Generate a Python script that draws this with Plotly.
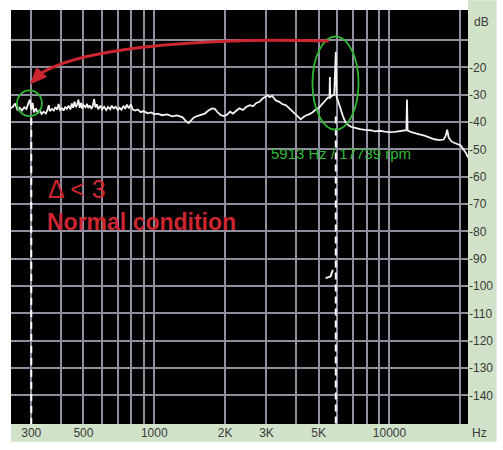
import math
import plotly.graph_objects as go

# ---------------- data ----------------
freq_hz = [
    244, 250, 256, 262, 268, 274, 280, 286, 292, 296, 300, 304, 308, 314, 320, 326,
    332, 339, 346, 352, 356, 360, 368, 374, 380, 387, 392, 398, 405, 412, 418, 425,
    432, 440, 446, 452, 458, 464, 470, 476, 482, 488, 494, 500, 510, 518, 524, 532,
    540, 548, 555, 562, 570, 578, 590, 600, 612, 625, 636, 650, 660, 672, 685, 700,
    712, 725, 740, 752, 765, 780, 795, 810, 830, 851, 875, 900, 937, 970, 1000, 1033,
    1080, 1137, 1190, 1253, 1320, 1360, 1400, 1430, 1470, 1521, 1580, 1640, 1700, 1760,
    1810, 1860, 1920, 1980, 2040, 2100, 2160, 2240, 2300, 2380, 2467, 2550, 2630, 2718,
    2800, 2890, 2960, 3030, 3100, 3170, 3250, 3300, 3400, 3500, 3634, 3750, 3880, 4003,
    4100, 4200, 4300, 4410, 4550, 4700, 4858, 5000, 5150, 5300, 5400, 5480, 5560, 5580,
    5600, 5700, 5820, 5913, 5960, 6050, 6200, 6350, 6495, 6700, 6900, 7154, 7500, 7880,
    8300, 8681, 9100, 9565, 10000, 10537, 11000, 11500, 11800, 11870, 11940, 12300, 12790,
    13400, 14090, 14800, 15520, 16300, 17000, 17350, 17600, 17850, 18300, 18830, 19500,
    20100, 20750, 21200, 21570,
]
level_db = [
    -35.0, -34.5, -33.2, -35.5, -34.8, -35.8, -34.6, -35.2, -33.0, -31.8, -35.5, -33.0,
    -36.5, -35.0, -36.8, -35.6, -37.0, -36.2, -36.9, -35.5, -33.8, -36.0, -35.2, -35.8,
    -34.5, -35.5, -33.4, -35.6, -35.0, -35.8, -34.4, -35.2, -34.0, -35.4, -33.2, -34.8,
    -32.6, -34.5, -33.6, -31.8, -34.8, -33.0, -35.2, -33.8, -34.6, -33.4, -34.9, -33.9,
    -35.2, -34.1, -31.6, -34.6, -33.5, -35.3, -34.0, -35.4, -34.4, -35.6, -34.5, -35.3,
    -34.0, -35.0, -34.4, -35.6, -34.8, -35.5, -34.1, -35.2, -33.6, -35.0, -33.5, -35.4,
    -35.8, -35.4, -36.4, -36.0, -36.8, -36.5, -37.2, -36.9, -37.5, -37.2, -37.9, -37.6,
    -38.3, -39.6, -40.4, -39.5, -38.4, -37.8, -37.2, -36.9, -35.8, -35.0, -35.2, -36.5,
    -37.5, -37.8, -37.3, -36.2, -36.9, -35.8, -35.0, -35.6, -34.4, -33.8, -34.2, -33.0,
    -32.6, -31.4, -30.8, -30.2, -30.9, -30.4, -31.6, -32.2, -32.6, -33.4, -33.9, -35.0,
    -36.1, -37.3, -38.4, -39.0, -38.2, -37.6, -37.2, -36.5, -35.4, -34.9, -33.6, -32.5,
    -31.8, -31.0, -31.2, -23.5, -31.0, -30.4, -30.0, -14.3, -30.8, -32.4, -35.6, -38.0,
    -40.0, -41.2, -41.8, -42.2, -42.6, -42.9, -43.0, -43.4, -43.2, -43.5, -43.7, -43.6,
    -43.4, -43.1, -43.0, -31.8, -43.1, -43.6, -44.1, -44.5, -45.0, -45.6, -46.3, -46.6,
    -46.4, -45.0, -42.8, -45.6, -47.0, -47.6, -48.0, -48.6, -50.3, -51.5, -53.0,
]

hook_hz = [5351, 5617, 5745]
hook_db = [-97.1, -96.5, -94.1]

x_grid_hz = [300, 400, 500, 600, 700, 800, 900, 1000, 2000, 3000, 4000, 5000,
             6000, 7000, 8000, 9000, 10000, 20000]
x_tick_text = ["300", "", "500", "", "", "", "", "1000", "2K", "3K", "", "5K",
               "", "", "", "", "10000", ""]
y_grid_db = [-10, -20, -30, -40, -50, -60, -70, -80, -90, -100, -110, -120, -130, -140]
y_tick_text = ["", "-20", "-30", "-40", "-50", "-60", "-70", "-80", "-90", "-100",
               "-110", "-120", "-130", "-140"]

marker_hz = [300, 5913]
marker_top_db = [-38.5, -38.0]

peak_label = "5913 Hz / 17739 rpm"
note_lines = ["\u0394 < 3", "Normal condition"]

# ---------------- layout geometry ----------------
W, H = 503, 450
L, R, T, B = 11, 474, 10, 432
X_MIN_HZ, X_MAX_HZ = 246, 21570
Y_MIN, Y_MAX = -150.5, 1.0


def px(x):
    return (x - L) / (R - L)


def py(y):
    return (B - y) / (B - T)


GREEN_BG = "#d0e2c8"
GRID = "#8e8e9e"
RED = "#cc2630"
GREEN = "#30b835"
FONT = "Liberation Sans, Arial"

fig = go.Figure()
fig.add_trace(go.Scatter(x=freq_hz, y=level_db, mode="lines",
                         line=dict(color="#f2f2f2", width=1.8), hoverinfo="skip",
                         showlegend=False))
fig.add_trace(go.Scatter(x=hook_hz, y=hook_db, mode="lines",
                         line=dict(color="#f2f2f2", width=2), hoverinfo="skip",
                         showlegend=False))

shapes = []
# label strips
shapes.append(dict(type="rect", xref="paper", yref="paper", x0=px(R), x1=px(W),
                   y0=py(H), y1=py(0), fillcolor=GREEN_BG, line_width=0, layer="below"))
shapes.append(dict(type="rect", xref="paper", yref="paper", x0=0, x1=px(R),
                   y0=py(H), y1=0, fillcolor=GREEN_BG, line_width=0, layer="below"))
# dashed markers
for hz, top in zip(marker_hz, marker_top_db):
    shapes.append(dict(type="line", xref="x", yref="y", x0=hz, x1=hz, y0=top, y1=Y_MIN,
                       line=dict(color="white", width=2, dash="7px,5px")))
# green ellipses
shapes.append(dict(type="circle", xref="x", yref="y", x0=261, x1=333, y0=-28.4, y1=-37.8,
                   line=dict(color=GREEN, width=1.8)))
shapes.append(dict(type="circle", xref="x", yref="y", x0=4706, x1=7386, y0=-8.7, y1=-42.8,
                   line=dict(color=GREEN, width=1.8)))
# curved red arrow
p0, c1, c2, p3 = (333, 41.7), (230, 38), (90, 45), (42, 74)
path = "M {},{} C {},{} {},{} {},{}".format(px(p0[0]), py(p0[1]), px(c1[0]), py(c1[1]),
                                            px(c2[0]), py(c2[1]), px(p3[0]), py(p3[1]))
shapes.append(dict(type="path", xref="paper", yref="paper", path=path,
                   line=dict(color=RED, width=3)))
tip, b1, b2 = (31, 85), (47, 78), (37, 69)
head = "M {},{} L {},{} L {},{} Z".format(px(tip[0]), py(tip[1]), px(b1[0]), py(b1[1]),
                                         px(b2[0]), py(b2[1]))
shapes.append(dict(type="path", xref="paper", yref="paper", path=head,
                   fillcolor=RED, line=dict(color=RED, width=1)))

annotations = [
    dict(x=px(46), y=py(192), xref="paper", yref="paper", text=note_lines[0],
         showarrow=False, xanchor="left", yanchor="middle",
         font=dict(family=FONT, size=25, color=RED)),
    dict(x=px(45), y=py(226), xref="paper", yref="paper", text="<b>" + note_lines[1] + "</b>",
         showarrow=False, xanchor="left", yanchor="middle",
         font=dict(family=FONT, size=23, color=RED)),
    dict(x=px(345), y=py(156), xref="paper", yref="paper", text=peak_label,
         showarrow=False, xanchor="center", yanchor="middle",
         font=dict(family=FONT, size=15, color=GREEN)),
    dict(x=px(488), y=py(22), xref="paper", yref="paper", text="dB",
         showarrow=False, xanchor="center", yanchor="middle",
         font=dict(family=FONT, size=12, color="#3a3a3a")),
    dict(x=px(486), y=py(441), xref="paper", yref="paper", text="Hz",
         showarrow=False, xanchor="center", yanchor="middle",
         font=dict(family=FONT, size=12, color="#3a3a3a")),
]

fig.update_layout(
    width=W, height=H,
    margin=dict(l=L, r=W - R, t=T, b=H - B, pad=0),
    paper_bgcolor="white", plot_bgcolor="black",
    shapes=shapes, annotations=annotations,
    xaxis=dict(type="log", range=[math.log10(X_MIN_HZ), math.log10(X_MAX_HZ)],
               tickmode="array", tickvals=x_grid_hz, ticktext=x_tick_text,
               showgrid=True, gridcolor=GRID, gridwidth=1.5, zeroline=False,
               showline=False, ticks="", fixedrange=True,
               tickfont=dict(family=FONT, size=12, color="#3a3a3a")),
    yaxis=dict(range=[Y_MIN, Y_MAX], side="right",
               tickmode="array", tickvals=y_grid_db, ticktext=y_tick_text,
               showgrid=True, gridcolor=GRID, gridwidth=1.5, zeroline=False,
               showline=False, ticks="", fixedrange=True,
               tickfont=dict(family=FONT, size=12, color="#3a3a3a")),
    showlegend=False,
)

fig.write_html("out.html", config={"displayModeBar": False})
